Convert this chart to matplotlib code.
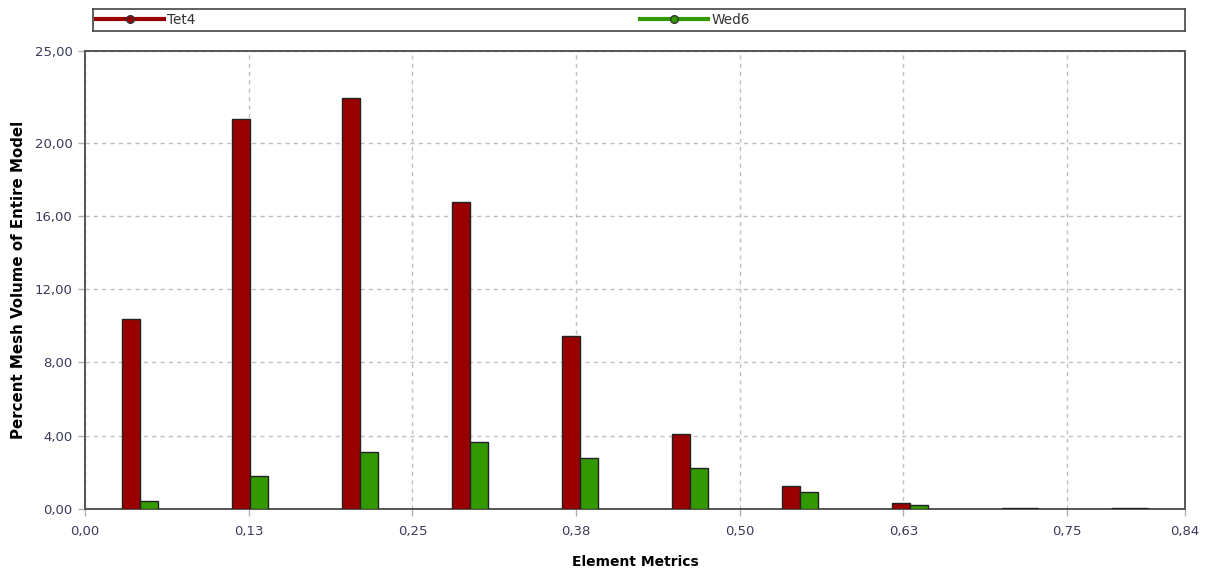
import numpy as np
import matplotlib
matplotlib.use("Agg")
import matplotlib.pyplot as plt
from matplotlib.lines import Line2D
from matplotlib.legend import Legend

# histogram of element metric, % of mesh volume
bin_centers = [0.042, 0.126, 0.210, 0.294, 0.378, 0.462, 0.546, 0.630, 0.714, 0.798]
tet4 = [10.35, 21.3, 22.45, 16.76, 9.45, 4.07, 1.24, 0.29, 0.06, 0.05]
wed6 = [0.42, 1.77, 3.10, 3.64, 2.75, 2.20, 0.90, 0.22, 0.02, 0.02]

xticks = [0.0, 0.125, 0.25, 0.375, 0.5, 0.625, 0.75, 0.84]
xticklabels = ["0,00", "0,13", "0,25", "0,38", "0,50", "0,63", "0,75", "0,84"]
yticks = [0, 4, 8, 12, 16, 20, 25]
yticklabels = ["0,00", "4,00", "8,00", "12,00", "16,00", "20,00", "25,00"]

RED = "#990000"
GREEN = "#339900"
TICKCOL = "#3a3a5c"

plt.rcParams['font.family'] = ['DejaVu Sans']

fig = plt.figure(figsize=(12.11, 5.71), dpi=100)
ax = fig.add_axes([0.0702, 0.1091, 0.9083, 0.8012])

w = 0.0137
x = np.array(bin_centers)
ax.bar(x - w / 2, tet4, width=w, color=RED, edgecolor="#222222", linewidth=1.0, zorder=3)
ax.bar(x + w / 2, wed6, width=w, color=GREEN, edgecolor="#222222", linewidth=1.0, zorder=3)

ax.set_xlim(0, 0.84)
ax.set_ylim(0, 25)
ax.set_xticks(xticks)
ax.set_xticklabels(xticklabels)
ax.set_yticks(yticks)
ax.set_yticklabels(yticklabels)
ax.tick_params(axis='both', colors="#b0b0b0", labelcolor=TICKCOL, labelsize=9.5,
               length=5, width=1, pad=4)
ax.tick_params(axis='x', pad=7)

ax.grid(True, linestyle=(0, (3, 3)), color="#c0c0c0", linewidth=1.0, zorder=0)
for s in ax.spines.values():
    s.set_color("#555555")
    s.set_linewidth(1.4)

ax.set_xlabel("Element Metrics", fontsize=10, fontweight="bold", labelpad=12)
ax.set_ylabel("Percent Mesh Volume of Entire Model", fontsize=10.8, fontweight="bold", labelpad=6)

# legend strip across the top
lax = fig.add_axes([0.0768, 0.9457, 0.9017, 0.0385])
lax.set_xticks([])
lax.set_yticks([])
for s in lax.spines.values():
    s.set_color("#444444")
    s.set_linewidth(1.2)

names = ["Tet4", "Wed6"]
colors = [RED, GREEN]
starts = [0.0, 0.4985]
for name, c, x0 in zip(names, colors, starts):
    h = Line2D([], [], color=c, lw=3, marker="o", markersize=5.5,
               markerfacecolor=c, markeredgecolor="#333333")
    leg = Legend(lax, [h], [name], loc="center left", bbox_to_anchor=(x0, 0.5),
                 frameon=False, fontsize=9.8, handlelength=5.0,
                 handletextpad=0.25, borderaxespad=0.2, borderpad=0,
                 labelcolor="#333333")
    lax.add_artist(leg)

fig.savefig("out.png", dpi=100)
